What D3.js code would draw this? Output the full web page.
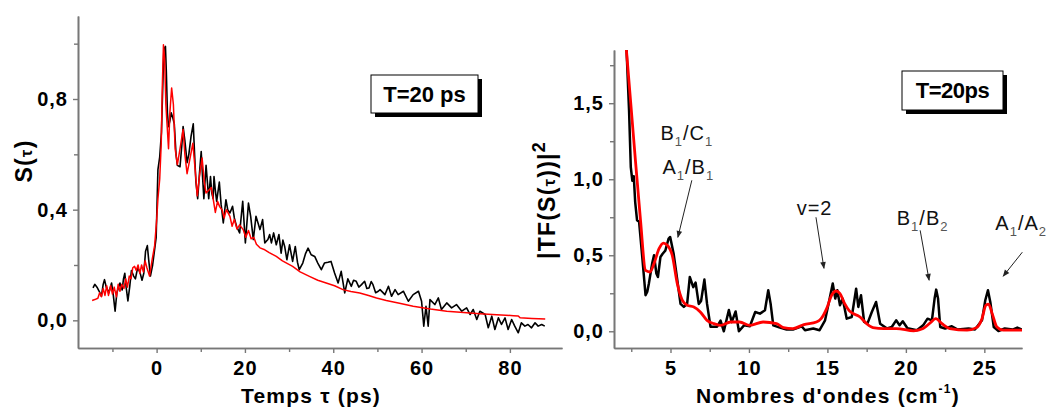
<!DOCTYPE html>
<html><head><meta charset="utf-8">
<script src="https://cdn.jsdelivr.net/npm/d3@7"></script>
<style>
html,body{margin:0;padding:0;background:#fff;}
text{font-family:"Liberation Sans",Arial,sans-serif;}
</style></head>
<body><svg id="c" width="1054" height="409"></svg>
<script>
// ---------- Left panel data: S(tau) ----------
const leftTimeExp = [-14.4,-14.0,-13.5,-13.0,-12.5,-12.1,-11.8,-11.4,-10.8,-10.2,-9.8,-9.4,-9.0,-8.6,-8.3,-7.8,-7.5,-7.2,-6.9,-6.5,-6.1,-5.7,-5.2,-4.8,-4.3,-3.8,-3.3,-2.9,-2.5,-2.1,-1.8,-1.4,-0.9,-0.5,-0.1,0.3,0.7,1.1,1.4,1.65,2.0,2.2,2.45,2.7,3.0,3.3,3.7,4.0,4.4,4.7,5.3,5.7,6.0,6.4,6.9,7.3,7.8,8.3,8.6,8.9,9.3,9.7,10.1,10.4,10.7,11.2,11.8,12.2,12.5,12.8,13.0,13.3,13.6,14.2,14.6,15.1,15.7,16.1,16.6,17.2,17.6,18.1,18.8,19.5,20.1,20.8,21.3,21.9,22.5,23.0,23.4,24.0,24.5,25.2,25.6,26.0,26.5,27.1,27.7,28.2,28.6,29.0,29.5,30.1,30.8,31.4,31.9,32.3,33.1,33.7,34.3,35.0,35.8,36.5,37.3,38.0,38.8,39.5,40.3,41.1,41.8,42.6,43.3,44.1,44.6,45.2,45.8,46.4,47.1,47.6,48.1,48.6,49.0,49.6,50.2,50.6,51.7,52.5,53.2,54.0,54.7,55.9,57.0,58.1,59.3,60.0,60.5,61.0,61.5,61.9,63.0,63.8,64.5,65.7,66.8,67.9,69.1,70.2,71.0,71.7,72.5,73.2,74.4,75.1,75.9,76.6,77.4,78.1,78.9,79.6,80.4,81.1,81.9,82.6,83.4,84.1,84.9,85.7,86.4,87.2,87.9];
const leftSignalExp = [0.117,0.13,0.12,0.105,0.087,0.13,0.147,0.12,0.10,0.135,0.09,0.033,0.10,0.12,0.135,0.11,0.15,0.17,0.12,0.07,0.12,0.18,0.16,0.15,0.19,0.175,0.145,0.17,0.25,0.27,0.22,0.16,0.20,0.25,0.30,0.545,0.59,0.68,0.85,0.98,0.99,0.90,0.75,0.70,0.72,0.75,0.73,0.71,0.60,0.56,0.555,0.63,0.70,0.65,0.57,0.60,0.665,0.71,0.60,0.50,0.44,0.53,0.61,0.52,0.44,0.56,0.44,0.52,0.46,0.44,0.52,0.47,0.43,0.50,0.42,0.352,0.436,0.40,0.388,0.412,0.37,0.34,0.316,0.43,0.28,0.424,0.376,0.292,0.376,0.35,0.328,0.364,0.28,0.292,0.31,0.28,0.316,0.273,0.31,0.243,0.29,0.267,0.219,0.273,0.213,0.267,0.21,0.183,0.207,0.24,0.261,0.237,0.231,0.207,0.183,0.207,0.21,0.213,0.171,0.135,0.177,0.099,0.15,0.123,0.145,0.141,0.12,0.129,0.141,0.115,0.117,0.14,0.129,0.10,0.105,0.111,0.093,0.123,0.087,0.111,0.093,0.105,0.069,0.093,0.105,0.069,-0.021,0.051,-0.021,0.075,0.057,0.081,0.039,0.063,0.045,0.057,0.033,0.045,0.021,0.039,0.003,0.033,0.021,-0.027,0.015,-0.033,0.009,-0.015,0.009,-0.033,0.003,-0.021,-0.045,-0.009,-0.021,-0.015,-0.027,-0.009,-0.021,-0.015,-0.021];
const leftTimeFit = [-14.6,-14.0,-13.3,-12.9,-12.5,-12.1,-11.7,-11.3,-10.9,-10.4,-10.0,-9.6,-9.1,-8.7,-8.3,-7.9,-7.4,-7.0,-6.6,-6.2,-5.8,-5.4,-5.0,-4.6,-4.2,-3.8,-3.4,-3.0,-2.6,-2.2,-1.6,-1.0,-0.45,0.0,0.3,0.7,1.05,1.3,1.55,1.8,2.1,2.4,2.7,3.0,3.4,3.8,4.2,4.7,5.3,6.0,6.4,6.9,7.5,8.2,8.7,9.2,9.7,10.3,10.8,11.2,11.8,12.4,12.9,13.3,13.8,14.3,14.8,15.3,15.8,16.6,17.1,17.6,18.2,18.8,19.6,20.2,20.8,21.4,22.0,22.6,23.4,24.5,25.5,27.1,28.5,30.8,32.5,34.6,36.5,38.4,40.3,42.2,44.0,46.0,48.0,49.8,52.0,55.0,58.1,62.0,65.7,69.5,73.2,77.0,80.8,81.9,82.3,85.0,88.0];
const leftFit = [0.072,0.075,0.08,0.10,0.085,0.115,0.09,0.125,0.09,0.125,0.095,0.12,0.085,0.13,0.105,0.13,0.115,0.15,0.12,0.16,0.15,0.19,0.195,0.18,0.20,0.17,0.20,0.175,0.215,0.19,0.16,0.22,0.27,0.36,0.44,0.51,0.64,0.85,0.996,0.95,0.78,0.70,0.62,0.75,0.84,0.78,0.62,0.563,0.62,0.69,0.60,0.53,0.58,0.64,0.55,0.45,0.52,0.587,0.50,0.46,0.47,0.48,0.43,0.39,0.43,0.41,0.40,0.37,0.40,0.376,0.34,0.365,0.33,0.345,0.328,0.30,0.325,0.295,0.30,0.275,0.262,0.255,0.245,0.231,0.215,0.195,0.175,0.159,0.145,0.135,0.125,0.111,0.104,0.099,0.09,0.081,0.072,0.062,0.051,0.041,0.033,0.028,0.024,0.02,0.017,0.016,0.009,0.007,0.005];

// ---------- Right panel data: |TF(S(tau))|^2 ----------
const rightWaveExp = [2.2,2.36,2.47,2.57,2.66,2.75,2.87,3.0,3.2,3.41,3.52,3.62,3.83,3.95,4.1,4.2,4.36,4.5,4.67,4.88,4.98,5.2,5.43,5.64,5.85,6.06,6.23,6.45,6.6,6.8,6.95,7.16,7.33,7.55,7.97,8.19,8.4,8.72,8.9,9.15,9.36,9.7,10.06,10.4,10.7,11.02,11.23,11.38,11.55,11.97,12.4,12.8,13.36,13.57,14.1,14.5,14.85,15.12,15.34,15.5,15.63,15.8,15.97,16.23,16.55,16.83,16.97,17.14,17.34,17.55,17.83,18.1,18.36,18.8,19.1,19.38,19.6,19.8,20.1,20.7,21.1,21.38,21.66,21.83,21.93,22.05,22.19,22.5,22.93,23.3,24.0,24.4,24.85,25.06,25.23,25.38,25.6,25.9,26.3,26.8,27.1,27.4];
const rightPowerExp = [1.85,1.45,1.08,0.99,1.02,0.85,0.73,0.72,0.49,0.237,0.26,0.313,0.445,0.50,0.38,0.357,0.489,0.51,0.53,0.61,0.62,0.51,0.34,0.18,0.16,0.18,0.357,0.29,0.32,0.18,0.20,0.34,0.18,0.03,0.03,0.07,0.0,0.14,0.06,0.13,0.0,0.04,0.033,0.127,0.116,0.138,0.27,0.182,0.039,0.024,0.011,0.011,0.033,0.007,0.018,0.007,0.072,0.204,0.314,0.215,0.27,0.171,0.215,0.083,0.094,0.28,0.16,0.237,0.061,0.05,0.127,0.193,0.05,0.018,0.028,0.072,0.04,0.066,0.02,0.007,0.039,0.083,0.072,0.215,0.274,0.215,0.028,0.018,0.033,0.011,0.018,0.011,0.072,0.204,0.27,0.193,0.028,0.002,0.018,0.011,0.024,0.011];
const rightWaveFit = [2.19,2.66,3.09,3.41,3.69,3.95,4.27,4.55,4.8,5.11,5.43,5.75,6.06,6.49,6.9,7.33,7.76,8.19,8.82,9.4,10.06,10.9,11.76,12.2,12.8,13.5,14.3,14.6,14.95,15.27,15.55,15.8,16.1,16.4,17.08,17.5,17.9,18.6,19.4,20.5,21.1,21.55,21.9,22.3,22.8,23.9,24.5,24.85,25.1,25.27,25.5,25.8,26.2,27.4];
const rightPowerFit = [1.85,1.257,0.73,0.40,0.39,0.445,0.543,0.58,0.566,0.50,0.315,0.205,0.171,0.16,0.127,0.072,0.05,0.039,0.061,0.061,0.039,0.061,0.05,0.024,0.018,0.044,0.061,0.083,0.149,0.237,0.265,0.248,0.182,0.134,0.094,0.05,0.024,0.018,0.018,0.003,0.018,0.055,0.083,0.05,0.018,0.007,0.024,0.083,0.171,0.178,0.116,0.028,0.007,0.007];

// ---------- Ticks ----------
const leftXMajor = [0,20,40,60,80];
const leftXMinor = [-10,10,30,50,70];
const leftYMajor = [0,0.4,0.8];
const leftYMinor = [0.2,0.6,1.0];
const rightXMajor = [5,10,15,20,25];
const rightXMinor = [2.5,7.5,12.5,17.5,22.5];
const rightYMajor = [0,0.5,1.0,1.5];
const rightYMinor = [0.25,0.75,1.25,1.75];

// ---------- Annotations (wavenumber, value) ----------
const annoLabels = [["B","1","/C","1"],["A","1","/B","1"],["v=2"],["B","1","/B","2"],["A","1","/A","2"]];
const annoX = [4.36,4.49,13.04,19.42,25.7];
const annoY = [1.257,1.037,0.763,0.697,0.664];
const arrowFromX = [6.36,14.27,20.91,27.42];
const arrowFromY = [0.993,0.75,0.664,0.52];
const arrowToX = [5.47,14.78,21.48,26.2];
const arrowToY = [0.618,0.414,0.336,0.362];

const svg = d3.select("#c");
const comma = d => d3.format(".1f")(d).replace(".", ",");
const axisColor = "#777";

const defs = svg.append("defs");
defs.append("marker").attr("id","ah").attr("viewBox","0 0 10 10").attr("refX",9).attr("refY",5)
  .attr("markerWidth",9).attr("markerHeight",7).attr("markerUnits","userSpaceOnUse").attr("orient","auto")
  .append("path").attr("d","M0,1 L10,5 L0,9 Z").attr("fill","#222");

function styleAxis(g){
  g.select(".domain").attr("stroke",axisColor).attr("stroke-width",1.6);
  g.selectAll(".tick line").attr("stroke",axisColor).attr("stroke-width",1.4);
  g.selectAll("text").attr("fill","#000").attr("font-size",20).attr("font-weight","bold")
    .attr("letter-spacing",1).attr("font-family","'Liberation Sans',Arial,sans-serif");
}

function panel(o){
  const x = d3.scaleLinear(o.xd, o.xr);
  const y = d3.scaleLinear(o.yd, o.yr);
  const clipId = o.id+"clip";
  defs.append("clipPath").attr("id",clipId).append("rect")
    .attr("x",o.xr[0]).attr("y",o.yr[1]).attr("width",o.xr[1]-o.xr[0]).attr("height",o.yr[0]-o.yr[1]);

  const gxm = svg.append("g").attr("transform",`translate(0,${o.yr[0]})`)
    .call(d3.axisBottom(x).tickValues(o.xMinor).tickSize(4).tickSizeOuter(0).tickFormat(""));
  styleAxis(gxm);
  const gym = svg.append("g").attr("transform",`translate(${o.xr[0]},0)`)
    .call(d3.axisLeft(y).tickValues(o.yMinor).tickSize(4).tickSizeOuter(0).tickFormat(""));
  styleAxis(gym);
  const gx = svg.append("g").attr("transform",`translate(0,${o.yr[0]})`)
    .call(d3.axisBottom(x).tickValues(o.xMajor).tickSize(5).tickPadding(8).tickSizeOuter(0).tickFormat(d3.format("d")));
  styleAxis(gx);
  const gy = svg.append("g").attr("transform",`translate(${o.xr[0]},0)`)
    .call(d3.axisLeft(y).tickValues(o.yMajor).tickSize(5).tickPadding(5).tickSizeOuter(0).tickFormat(comma));
  styleAxis(gy);

  const plot = svg.append("g").attr("clip-path",`url(#${clipId})`);
  const lineExp = d3.line().x(d=>x(d[0])).y(d=>y(d[1]));
  const lineFit = d3.line().x(d=>x(d[0])).y(d=>y(d[1])).curve(o.fitCurve);
  plot.append("path").datum(d3.zip(o.expX,o.expY)).attr("d",lineExp)
    .attr("fill","none").attr("stroke","#000").attr("stroke-width",o.expW).attr("stroke-linejoin","round");
  plot.append("path").datum(d3.zip(o.fitX,o.fitY)).attr("d",lineFit)
    .attr("fill","none").attr("stroke","#ff0000").attr("stroke-width",o.fitW).attr("stroke-linejoin","round");

  const b = o.box;
  svg.append("rect").attr("x",b[0]+4).attr("y",b[1]+4).attr("width",b[2]).attr("height",b[3]).attr("fill","#000");
  svg.append("rect").attr("x",b[0]).attr("y",b[1]).attr("width",b[2]).attr("height",b[3])
    .attr("fill","#fff").attr("stroke","#000").attr("stroke-width",1);
  svg.append("text").attr("x",b[0]+b[2]/2).attr("y",b[1]+27).attr("text-anchor","middle")
    .attr("font-size",22).attr("font-weight","bold").attr("letter-spacing",o.boxLS).text(o.boxText);
  return {x,y};
}

const L = panel({id:"L", xd:[-17.8,91.8], xr:[78,562], yd:[-0.1,1.1], yr:[348,16],
  xMajor:leftXMajor, xMinor:leftXMinor, yMajor:leftYMajor, yMinor:leftYMinor,
  expX:leftTimeExp, expY:leftSignalExp, fitX:leftTimeFit, fitY:leftFit,
  expW:1.6, fitW:1.5, fitCurve:d3.curveLinear,
  box:[371,75,107,38], boxText:"T=20 ps", boxLS:0});

const R = panel({id:"R", xd:[1.4,27.4], xr:[614,1022], yd:[-0.11,1.85], yr:[348,50],
  xMajor:rightXMajor, xMinor:rightXMinor, yMajor:rightYMajor, yMinor:rightYMinor,
  expX:rightWaveExp, expY:rightPowerExp, fitX:rightWaveFit, fitY:rightPowerFit,
  expW:2.5, fitW:2.8, fitCurve:d3.curveMonotoneX,
  box:[902,71,101,39], boxText:"T=20ps", boxLS:-0.5});

// axis titles
const titleStyle = t => t.attr("font-size",21).attr("font-weight","bold").attr("letter-spacing",1.2).attr("text-anchor","middle");
const tL = svg.append("text").attr("x",311).attr("y",403).call(titleStyle);
tL.text("Temps τ (ps)");
const yTL = svg.append("text").attr("transform","translate(32,161) rotate(-90)").call(titleStyle)
  .attr("font-size",23);
yTL.append("tspan").text("S(");
yTL.append("tspan").attr("font-size",17).text("τ");
yTL.append("tspan").text(")");

const tR = svg.append("text").attr("x",828).attr("y",403).call(titleStyle);
tR.append("tspan").text("Nombres d'ondes (cm");
tR.append("tspan").attr("font-size",12).attr("dy",-10).text("-1");
tR.append("tspan").attr("dy",10).text(")");
const yTR = svg.append("text").attr("transform","translate(555,200) rotate(-90)").call(titleStyle)
  .attr("font-size",23);
yTR.append("tspan").text("|TF(S(");
yTR.append("tspan").attr("font-size",17).text("τ");
yTR.append("tspan").text("))|");
yTR.append("tspan").attr("font-size",18).attr("dy",-10).text("2");

// annotations
annoLabels.forEach((parts,i)=>{
  const t = svg.append("text").attr("x",R.x(annoX[i])).attr("y",R.y(annoY[i]))
    .attr("font-size",20).attr("letter-spacing",1).attr("fill","#111");
  if(parts.length===1){ t.text(parts[0]); return; }
  t.append("tspan").text(parts[0]);
  t.append("tspan").attr("font-size",13).attr("dy",6).attr("fill","#555").text(parts[1]);
  t.append("tspan").attr("dy",-6).text(parts[2]);
  t.append("tspan").attr("font-size",13).attr("dy",6).attr("fill","#555").text(parts[3]);
});
arrowFromX.forEach((d,i)=>{
  svg.append("line").attr("x1",R.x(d)).attr("y1",R.y(arrowFromY[i]))
    .attr("x2",R.x(arrowToX[i])).attr("y2",R.y(arrowToY[i]))
    .attr("stroke","#222").attr("stroke-width",1).attr("marker-end","url(#ah)");
});
</script></body></html>
